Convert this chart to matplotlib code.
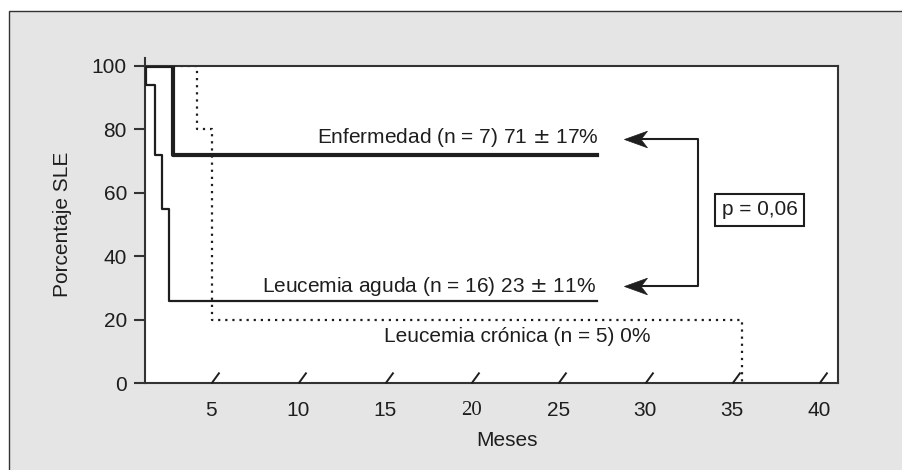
import numpy as np
import matplotlib
matplotlib.use("Agg")
import matplotlib.pyplot as plt
from matplotlib.patches import Rectangle
from matplotlib.path import Path

plt.rcParams['font.family'] = ['Liberation Sans', 'DejaVu Sans']

# Datos (meses, porcentaje SLE)
aguda_t = [1.21, 1.27, 1.78, 2.17, 2.59, 27.25]
aguda_s = [100, 94, 72, 55, 26, 26]
enf_t = [1.21, 2.80, 27.25]
enf_s = [100, 72, 72]
cron_t = [1.21, 4.18, 5.05, 35.6, 35.6]
cron_s = [100, 80, 20, 20, 0]

xticks = [5, 10, 15, 20, 25, 30, 35, 40]
yticks = [0, 20, 40, 60, 80, 100]

etiqueta_enf = "Enfermedad (n = 7) 71 $\\pm$ 17%"
etiqueta_aguda = "Leucemia aguda (n = 16) 23 $\\pm$ 11%"
etiqueta_cron = "Leucemia crónica (n = 5) 0%"
texto_p = "p = 0,06"

negro = '#1e1e1e'
fs = 15

fig = plt.figure(figsize=(9.03, 4.70), dpi=100)
fig.patch.set_facecolor('white')
# marco gris de fondo
fig.patches.append(Rectangle((9 / 903, -0.1), 1.2, 1.1 - 11 / 470,
                             transform=fig.transFigure, facecolor='#e5e5e5',
                             edgecolor='#333333', lw=1.0, zorder=-10))

ax = fig.add_axes([145 / 903, 1 - 383.3 / 470, 693.3 / 903, 317.6 / 470])
ax.set_facecolor('white')

ax.step(cron_t, cron_s, where='post', color=negro, lw=1.6, ls=(0, (1, 2.2)), zorder=2)
ax.step(aguda_t, aguda_s, where='post', color=negro, lw=1.6, zorder=3)
ax.step(enf_t, enf_s, where='post', color=negro, lw=3.0, zorder=4)

ax.set_xlim(1.21, 41.12)
ax.set_ylim(0, 100)

for s in ax.spines.values():
    s.set_linewidth(1.5)
    s.set_color('#333333')
ax.spines['left'].set_bounds(0, 102.5)

ax.set_yticks(yticks)
ax.tick_params(axis='y', length=8, width=1.5, color='#333333', labelsize=fs,
               labelcolor=negro, pad=5)
ax.set_xticks(xticks)
ax.set_xticklabels([str(v) for v in xticks])
ax.tick_params(axis='x', length=0, labelsize=fs, labelcolor=negro, pad=13)
for lab in ax.get_xticklabels():
    if lab.get_text() == '20':
        lab.set_family('Liberation Serif')

# marcas inclinadas del eje x
barra = Path([(0, 0), (8, 11)], [Path.MOVETO, Path.LINETO])
ax.plot(xticks, [0] * len(xticks), ls='none', marker=barra, markersize=15.8,
        markeredgewidth=1.4, markeredgecolor=negro, markerfacecolor='none',
        clip_on=False, zorder=5)

ax.set_ylabel("Porcentaje SLE", fontsize=fs, color=negro)
ax.yaxis.set_label_coords(-0.105, 0.5)
ax.set_xlabel("Meses", fontsize=fs, color=negro)
ax.xaxis.set_label_coords(0.522, -0.15)

ax.text(27.3, 77.3, etiqueta_enf, ha='right', va='center', fontsize=fs, color=negro)
ax.text(27.15, 30.5, etiqueta_aguda, ha='right', va='center', fontsize=fs, color=negro)
ax.text(14.98, 14.7, etiqueta_cron, ha='left', va='center', fontsize=fs, color=negro)

# corchete con flechas
ax.plot([29.5, 33.03, 33.03, 29.5], [77.0, 77.0, 30.7, 30.7], color=negro, lw=1.5)
punta = Path([(0, 0), (1, 0.36), (0.72, 0), (1, -0.36), (0, 0)],
             [Path.MOVETO, Path.LINETO, Path.LINETO, Path.LINETO, Path.CLOSEPOLY])
ax.plot([28.78, 28.78], [77.0, 30.7], ls='none', marker=punta, markersize=33,
        markerfacecolor=negro, markeredgecolor=negro, markeredgewidth=0.5, zorder=5)

ax.text(36.6, 54.6, texto_p, ha='center', va='center', fontsize=fs, color=negro,
        bbox=dict(boxstyle='square,pad=0.32', facecolor='white', edgecolor=negro, lw=1.5))

fig.savefig('out.png', dpi=100)
